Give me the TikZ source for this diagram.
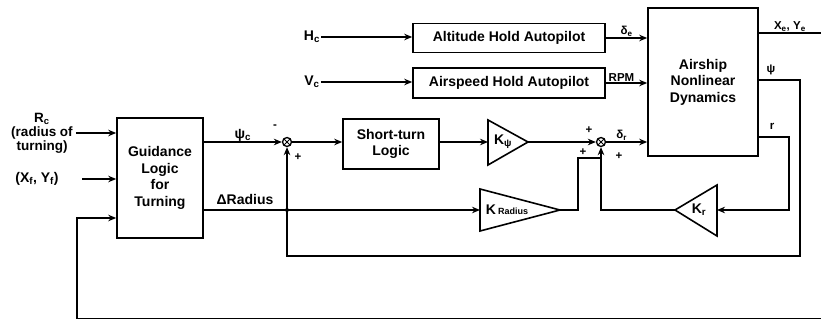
\documentclass[tikz,border=0pt]{standalone}
\usepackage{fontspec}
\setmainfont{Liberation Sans}
\usetikzlibrary{positioning}
\usetikzlibrary{arrows.meta}
\tikzset{blk/.style = {draw, line width=1.6pt, inner sep=0pt, align=center,
                       font=\fontsize{14}{16.5}\selectfont\bfseries}}
\tikzset{sumj/.style = {draw, circle, line width=1.3pt, minimum size=9pt, inner sep=0pt,
                        path picture={\draw[line width=0.9pt]
                          (path picture bounding box.north west) -- (path picture bounding box.south east)
                          (path picture bounding box.north east) -- (path picture bounding box.south west);}}}
\tikzset{sig/.style = {line width=1.6pt, -{Stealth[length=8pt,width=6.5pt]}}}
\tikzset{wire/.style = {line width=1.6pt}}
\tikzset{lbl/.style = {font=\fontsize{14}{14}\selectfont\bfseries, inner sep=1pt}}
\tikzset{sml/.style = {font=\fontsize{11.5}{12}\selectfont\bfseries, inner sep=1pt}}

\begin{document}
\begin{tikzpicture}[x=1pt, y=-1pt]
    \useasboundingbox (0,0) rectangle (821,320);
    % blocks
    \node[blk, minimum width=86pt, minimum height=120pt] (guid) at (160,178) {Guidance\\Logic\\for\\Turning};
    \node[blk, minimum width=192pt, minimum height=29pt] (alt) at (509,38) {Altitude Hold Autopilot};
    \node[blk, minimum width=192pt, minimum height=30pt] (aspd) at (509,83) {Airspeed Hold Autopilot};
    \node[blk, minimum width=96pt, minimum height=50pt] (short) at (391,144) {Short-turn\\Logic};
    \node[blk, minimum width=110pt, minimum height=148pt] (ship) at (703,82) {Airship\\Nonlinear\\Dynamics};
    \node[sumj] (s1) at (287,142) {};
    \node[sumj] (s2) at (601,142) {};
    % gains
    \coordinate (kpsiin) at (488,142);
    \coordinate (kpsiout) at (528,142);
    \draw[wire] (kpsiin) ++(0,-22) -- (kpsiout) -- ++(-40,23) -- cycle;
    \node[lbl] (kpsi) at (503,142) {K\textsubscript{ψ}};
    \coordinate (kradin) at (480,210);
    \coordinate (kradout) at (560,210);
    \draw[wire] (kradin) ++(0,-21) -- (kradout) -- ++(-80,21) -- cycle;
    \node[lbl] (krad) at (507,210) {K\,{\fontsize{9}{9}\selectfont Radius}};
    \coordinate (krin) at (717,210);
    \coordinate (krout) at (675,210);
    \draw[wire] (krin) ++(0,-25) -- (krout) -- ++(42,26) -- cycle;
    \node[lbl] (kr) at (699,210) {K\textsubscript{r}};
    % inputs
    \node[lbl, align=center, font=\fontsize{13.5}{14}\selectfont\bfseries] (rc) at (42,133) {R\textsubscript{c}\\(radius of\\turning)};
    \node[lbl] (xf) at (37,179) {(X\textsubscript{f}, Y\textsubscript{f})};
    \node[lbl] (hc) at (312,37) {H\textsubscript{c}};
    \node[lbl] (vc) at (312,82) {V\textsubscript{c}};
    \coordinate (xfin) at (82,179);
    \draw[sig] ([xshift=2pt]rc.east) -- (rc.east -| guid.west);
    \draw[sig] (xfin) -- (xfin -| guid.west);
    \draw[sig] (hc.east) -- (hc.east -| alt.west);
    \draw[sig] (vc.east) -- (vc.east -| aspd.west);
    \draw[sig] (alt.east) -- (alt.east -| ship.west) node[midway, above, sml] {δ\textsubscript{e}};
    \draw[sig] (aspd.east) -- (aspd.east -| ship.west) node[midway, above, sml, xshift=-5pt] {RPM};
    % turning loop
    \draw[sig] (guid.east |- s1) -- (s1.west) node[midway, above, lbl, yshift=-1pt] {ψ\textsubscript{c}};
    \draw[sig] (s1.east) -- (s1 -| short.west);
    \draw[sig] (short.east |- kpsiin) -- (kpsiin);
    \draw[sig] (kpsiout) -- (s2.west);
    \draw[sig] (s2.east) -- (s2 -| ship.west) node[midway, above, sml, xshift=-5pt] {δ\textsubscript{r}};
    \draw[sig] (guid.east |- kradin) -- (kradin);
    \node[lbl] (drad) at (245,199) {ΔRadius};
    \fill (s1 |- kradin) circle (2pt);
    \draw[wire] (kradout) -- ++(18,0) |- (s2.south |- 0,158);
    \draw[sig] (krout) -| (s2.south);
    % outputs and feedback
    \draw[wire] (ship.east |- 0,33) -- (821,33) node[midway, above, sml] {X\textsubscript{e}, Y\textsubscript{e}};
    \draw[sig] (ship.east |- 0,80) -- (800,80) -- (800,256) -| (s1.south);
    \node[sml] (psi) at (771,70) {ψ};
    \draw[sig] (ship.east |- 0,137) -- (789,137) |- (krin);
    \node[sml] (r) at (772,126) {r};
    \draw[sig] (821,318.5) -- (77,318.5) |- (guid.west |- 0,218);
    % signs
    \node[sml] (m1) at (275,127) {-};
    \node[sml] (p1) at (298,157) {+};
    \node[sml] (p2) at (589,130) {+};
    \node[sml] (p3) at (583,152) {+};
    \node[sml] (p4) at (619,156) {+};
\end{tikzpicture}
\end{document}
